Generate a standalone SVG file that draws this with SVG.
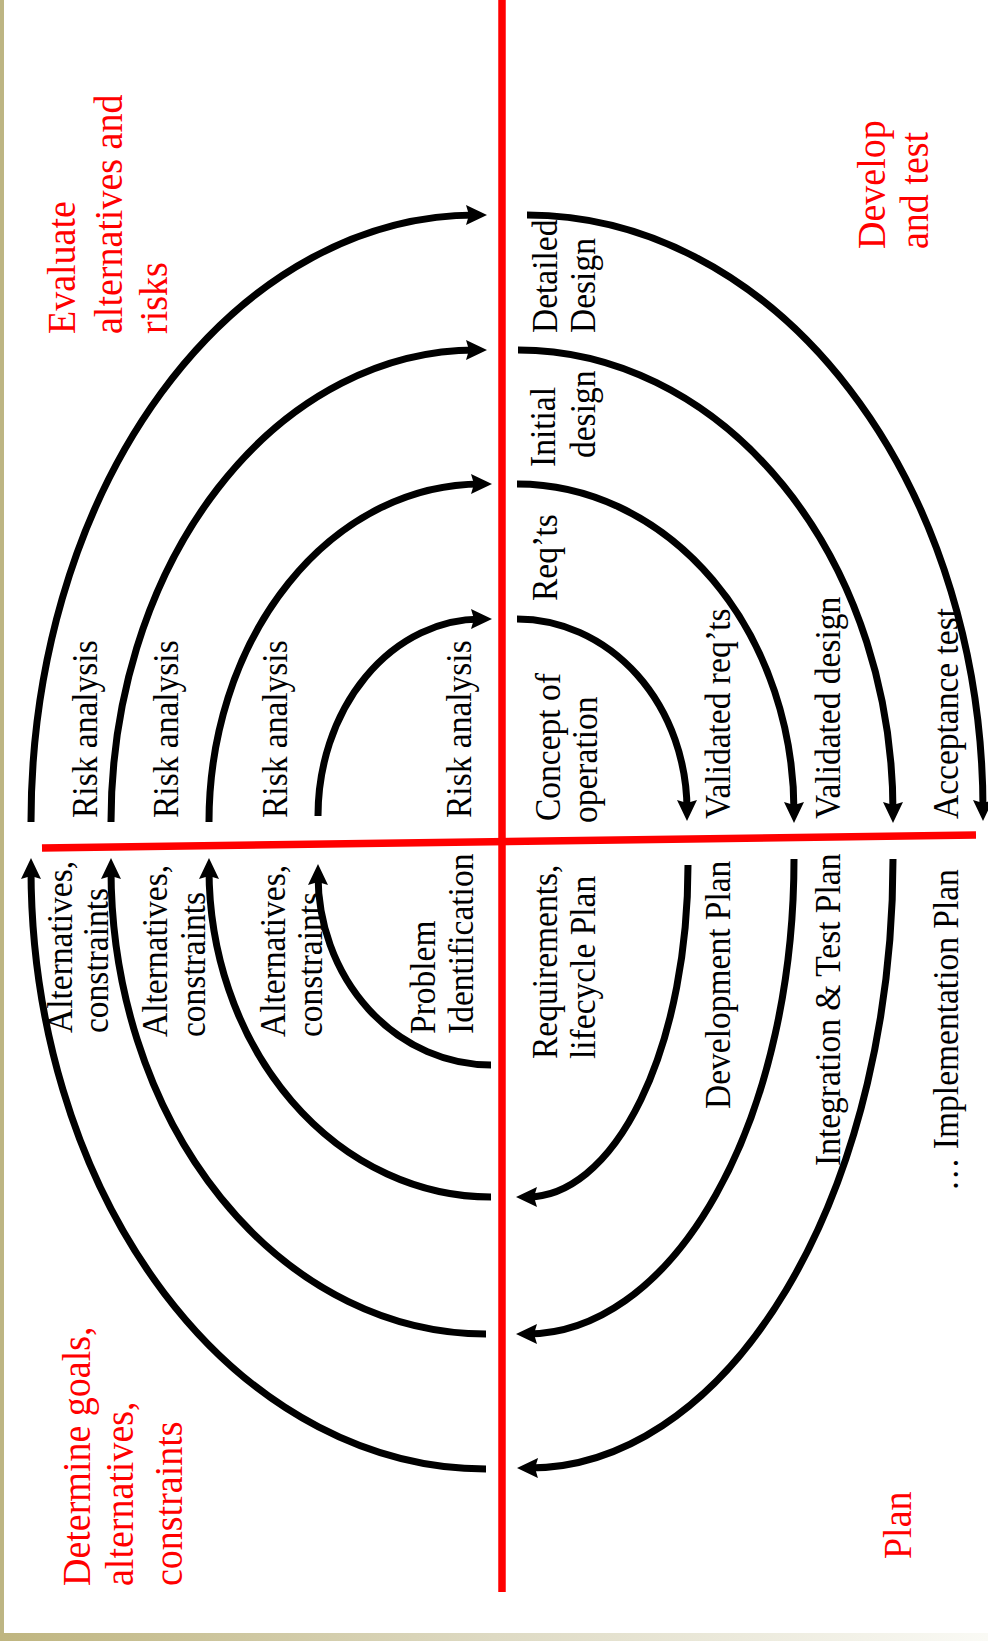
<svg xmlns="http://www.w3.org/2000/svg" width="988" height="1641" viewBox="0 0 988 1641">
<style>
.b{font-family:"Liberation Serif","Times New Roman",serif;font-size:33.5px;fill:#000}
.r{font-family:"Liberation Serif","Times New Roman",serif;font-size:38px;fill:#ff0000}
.arc{fill:none;stroke:#000;stroke-width:7;marker-end:url(#ah)}
.axis{fill:none;stroke:#ff0000;stroke-width:7.5}
</style>
<defs>
<marker id="ah" markerUnits="userSpaceOnUse" markerWidth="24" markerHeight="24" refX="10" refY="10" orient="auto" viewBox="0 0 24 24">
<path d="M0,0 L21,10 L0,20 L3,10 Z" fill="#000"/>
</marker>
<linearGradient id="bg" x1="0" y1="0" x2="1" y2="0">
<stop offset="0" stop-color="#bfb57f"/>
<stop offset="0.5" stop-color="#dedac3"/>
<stop offset="1" stop-color="#fafaf5"/>
</linearGradient>
</defs>
<rect x="0" y="0" width="988" height="1641" fill="#fff"/>
<g id="frame">
<rect x="0" y="0" width="4" height="1634" fill="#bdb583"/>
<rect x="0" y="1633" width="988" height="8" fill="url(#bg)"/>
</g>
<g id="axes">
<line class="axis" x1="502" y1="0" x2="502" y2="1592"/>
<line class="axis" x1="42" y1="848" x2="976" y2="835"/>
</g>
<g id="connectors">
<path class="arc" d="M31,822 A445,607 0 0 1 476,215"/>
<path class="arc" d="M111,822 A365,472 0 0 1 476,350"/>
<path class="arc" d="M209,822 A272,338 0 0 1 481,484"/>
<path class="arc" d="M318,816 A163,197 0 0 1 481,619"/>
<path class="arc" d="M517,619 A170,191 0 0 1 687,810"/>
<path class="arc" d="M517,484 A277,328 0 0 1 794,812"/>
<path class="arc" d="M518,350 A375,462 0 0 1 893,812"/>
<path class="arc" d="M527,215 A456,595 0 0 1 983,810"/>
<path class="arc" d="M491,1065 A173,190 0 0 1 318,875"/>
<path class="arc" d="M491,1197 A282,328 0 0 1 209,869"/>
<path class="arc" d="M486,1334 A375,465 0 0 1 111,869"/>
<path class="arc" d="M486,1469 A455,600 0 0 1 31,869"/>
<path class="arc" d="M688,865 A161,332 0 0 1 527,1197"/>
<path class="arc" d="M794,859 A267,475 0 0 1 527,1334"/>
<path class="arc" d="M893,859 A364,609 0 0 1 528,1468"/>
</g>
<g id="quadrant-evaluate">
<text class="r" transform="translate(75,334) rotate(-90) scale(1,1.08)">Evaluate</text>
<text class="r" transform="translate(122,334) rotate(-90) scale(1,1.08)">alternatives and</text>
<text class="r" transform="translate(167,334) rotate(-90) scale(1,1.08)">risks</text>
</g>
<g id="quadrant-develop">
<text class="r" transform="translate(885,249) rotate(-90) scale(1,1.08)">Develop</text>
<text class="r" transform="translate(928,249) rotate(-90) scale(1,1.08)">and test</text>
</g>
<g id="quadrant-determine">
<text class="r" transform="translate(90,1586) rotate(-90) scale(1,1.08)">Determine goals,</text>
<text class="r" transform="translate(133,1586) rotate(-90) scale(1,1.08)">alternatives,</text>
<text class="r" transform="translate(182,1586) rotate(-90) scale(1,1.08)">constraints</text>
</g>
<g id="quadrant-plan">
<text class="r" transform="translate(911,1559) rotate(-90) scale(1,1.08)">Plan</text>
</g>
<g id="detailed-design">
<text class="b" transform="translate(557,333) rotate(-90) scale(1,1.08)">Detailed</text>
<text class="b" transform="translate(595,333) rotate(-90) scale(1,1.08)">Design</text>
</g>
<g id="initial-design">
<text class="b" transform="translate(555,467) rotate(-90) scale(1,1.08)">Initial</text>
<text class="b" transform="translate(595,458) rotate(-90) scale(1,1.08)">design</text>
</g>
<g id="reqts">
<text class="b" transform="translate(557,601) rotate(-90) scale(1,1.08)">Req’ts</text>
</g>
<g id="concept">
<text class="b" transform="translate(560,821) rotate(-90) scale(1,1.08)">Concept of</text>
<text class="b" transform="translate(597,823) rotate(-90) scale(1,1.08)">operation</text>
</g>
<g id="validated-reqts">
<text class="b" transform="translate(730,819) rotate(-90) scale(1,1.08)">Validated req’ts</text>
</g>
<g id="validated-design">
<text class="b" transform="translate(840,819) rotate(-90) scale(1,1.08)">Validated design</text>
</g>
<g id="acceptance-test">
<text class="b" transform="translate(958,819) rotate(-90) scale(1,1.08)">Acceptance test</text>
</g>
<g id="risk-analysis">
<text class="b" transform="translate(97,818) rotate(-90) scale(1,1.08)">Risk analysis</text>
<text class="b" transform="translate(178,818) rotate(-90) scale(1,1.08)">Risk analysis</text>
<text class="b" transform="translate(287,818) rotate(-90) scale(1,1.08)">Risk analysis</text>
<text class="b" transform="translate(471,818) rotate(-90) scale(1,1.08)">Risk analysis</text>
</g>
<g id="alternatives">
<text class="b" transform="translate(72,1033) rotate(-90) scale(1,1.08)">Alternatives,</text>
<text class="b" transform="translate(108,1033) rotate(-90) scale(1,1.08)">constraints</text>
<text class="b" transform="translate(167,1037) rotate(-90) scale(1,1.08)">Alternatives,</text>
<text class="b" transform="translate(205,1037) rotate(-90) scale(1,1.08)">constraints</text>
<text class="b" transform="translate(285,1037) rotate(-90) scale(1,1.08)">Alternatives,</text>
<text class="b" transform="translate(322,1037) rotate(-90) scale(1,1.08)">constraints</text>
</g>
<g id="problem-identification">
<text class="b" transform="translate(435,1034) rotate(-90) scale(1,1.08)">Problem</text>
<text class="b" transform="translate(473,1034) rotate(-90) scale(1,1.08)">Identification</text>
</g>
<g id="requirements-plan">
<text class="b" transform="translate(557,1059) rotate(-90) scale(1,1.08)">Requirements,</text>
<text class="b" transform="translate(595,1059) rotate(-90) scale(1,1.08)">lifecycle Plan</text>
</g>
<g id="development-plan">
<text class="b" transform="translate(730,1109) rotate(-90) scale(1,1.08)">Development Plan</text>
</g>
<g id="integration-plan">
<text class="b" transform="translate(840,1166) rotate(-90) scale(1,1.08)">Integration &amp; Test Plan</text>
</g>
<g id="implementation-plan">
<text class="b" transform="translate(958,1191) rotate(-90) scale(1,1.08)">… Implementation Plan</text>
</g>
</svg>
